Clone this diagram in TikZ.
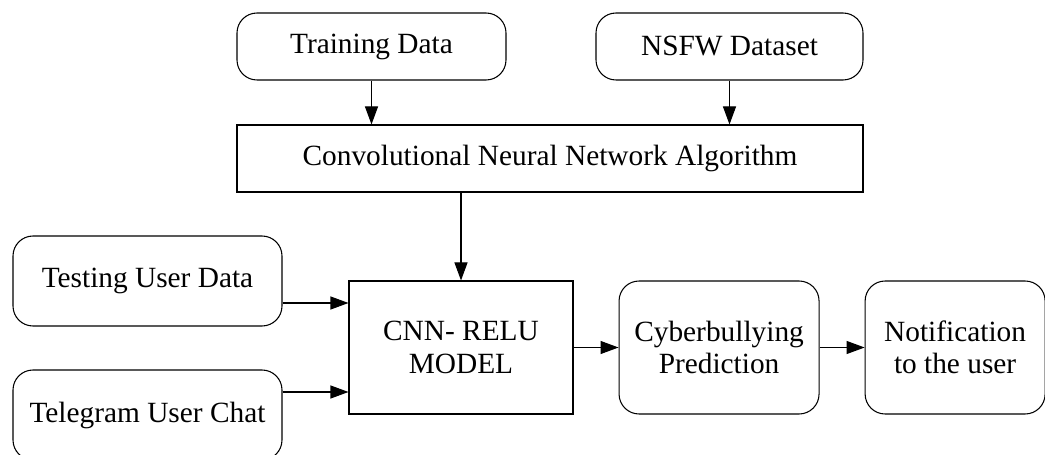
\documentclass[tikz,border=0pt]{standalone}
\usepackage{fontspec}
\setmainfont{Liberation Serif}
\usepackage{tikz}
\usetikzlibrary{arrows.meta, positioning, calc}

\begin{document}
\begin{tikzpicture}[
  node distance=9mm and 9mm,
  rbox/.style={draw, line width=0.6pt, rounded corners=4mm, align=center,
               font=\fontsize{16.7}{18.4}\selectfont, inner sep=0pt},
  box/.style={draw, line width=0.6pt, align=center,
              font=\fontsize{16.7}{18.4}\selectfont, inner sep=0pt},
  arr/.style={-{Triangle[length=3.6mm, width=2.6mm]}, line width=0.6pt}
]
  \useasboundingbox (0,0) rectangle (20.9,-9.1);

  % inputs for training
  \node[rbox, minimum width=53.8mm, minimum height=13.4mm] (train) at (7.43,-0.93) {Training Data};
  \node[rbox, minimum width=53.4mm, minimum height=13.4mm] (nsfw) at (14.59,-0.93) {NSFW Dataset};
  \node[box, minimum width=125.2mm, minimum height=13.4mm] (algo) at (11,-3.17) {Convolutional Neural Network Algorithm};

  % model and outputs
  \node[box, minimum width=44.8mm, minimum height=26.6mm] (model) at (9.22,-6.95) {CNN- RELU\\MODEL};
  \node[rbox, right=of model, minimum width=40mm, minimum height=26.6mm] (cyber) {Cyberbullying\\Prediction};
  \node[rbox, right=of cyber, minimum width=36mm, minimum height=26.6mm] (notif) {Notification\\to the user};

  % user inputs
  \node[rbox, minimum width=53.8mm, minimum height=18mm] (test) at (2.95,-5.62) {Testing User Data};
  \node[rbox, minimum width=53.8mm, minimum height=18mm] (tele) at (2.95,-8.3) {Telegram User Chat};

  \coordinate (min1) at ($(model.west)+(0,0.89)$);
  \coordinate (min2) at ($(model.west)+(0,-0.89)$);

  \draw[arr] (train) -- (train |- algo.north);
  \draw[arr] (nsfw) -- (nsfw |- algo.north);
  \draw[arr] (model |- algo.south) -- (model.north);
  \draw[arr] (test.east |- min1) -- (min1);
  \draw[arr] (tele.east |- min2) -- (min2);
  \draw[arr] (model) -- (cyber);
  \draw[arr] (cyber) -- (notif);
\end{tikzpicture}
\end{document}
